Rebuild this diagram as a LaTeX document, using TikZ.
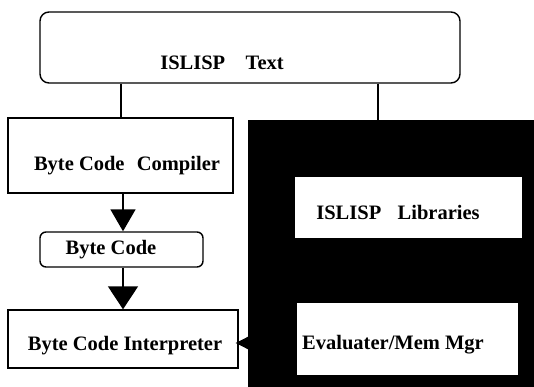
\documentclass[tikz,border=0pt]{standalone}
\usepackage{fontspec}
\setmainfont{Liberation Serif}
\usetikzlibrary{arrows.meta}
\begin{document}
\begin{tikzpicture}[x=1pt,y=-1pt,
  box/.style={draw=black,line width=1.4pt,fill=white,inner sep=0pt},
  rbox/.style={box,rounded corners=9pt},
  wbox/.style={draw=none,fill=white,inner sep=0pt},
  lbl/.style={font=\fontsize{20.5}{23}\selectfont\bfseries,inner sep=0pt,anchor=base},
  conn/.style={line width=1.6pt},
  bigarrow/.style={line width=1.6pt,-{Triangle[length=22pt,width=25pt]}},
  bigarrowb/.style={line width=1.6pt,-{Triangle[length=23pt,width=30pt]}},
  sidearrow/.style={line width=1.6pt,-{Triangle[length=19pt,width=19pt]}}]
\useasboundingbox (0,0) rectangle (534,387);
\fill[white] (0,0) rectangle (534,387);
% black region
\node[fill=black,draw=none,inner sep=0pt,minimum width=286pt,minimum height=267pt] (blk) at (391,253.5) {};
% boxes
\node[rbox,minimum width=420pt,minimum height=71pt] (top) at (250,47.5) {};
\node[box,minimum width=225pt,minimum height=75pt] (comp) at (120.5,155.5) {};
\node[rbox,rounded corners=6pt,minimum width=163pt,minimum height=35pt] (bc) at (121.5,249.5) {};
\node[box,minimum width=230pt,minimum height=58pt] (interp) at (123,339) {};
\node[wbox,minimum width=227pt,minimum height=61pt] (lib) at (408.5,207.5) {};
\node[wbox,minimum width=221pt,minimum height=72pt] (eval) at (407.5,339) {};
% labels
\node[lbl] (ttop) at (222,70) {ISLISP\hspace{1em}Text};
\node[lbl] (tcomp) at (127,171) {Byte Code\hspace{0.6em}Compiler};
\node[lbl] (tbc) at (111,254) {Byte Code};
\node[lbl] (tinterp) at (125,350) {Byte Code Interpreter};
\node[lbl] (tlib) at (398,219) {ISLISP\hspace{0.8em}Libraries};
\node[lbl] (teval) at (393,349) {Evaluater/Mem Mgr};
% connectors
\draw[conn] (top.south -| 121,0) -- (comp.north -| 121,0);
\draw[conn] (top.south -| 378,0) -- (blk.north -| 378,0);
\draw[bigarrow] (comp.south -| 123,0) -- (bc.north -| 123,0);
\draw[bigarrowb] (bc.south -| 123,0) -- (interp.north -| 123,0);
\coordinate (src) at (blk.west |- 0,343);
\draw[sidearrow] (src) -- ([xshift=-3pt]interp.east |- src);
\end{tikzpicture}
\end{document}
